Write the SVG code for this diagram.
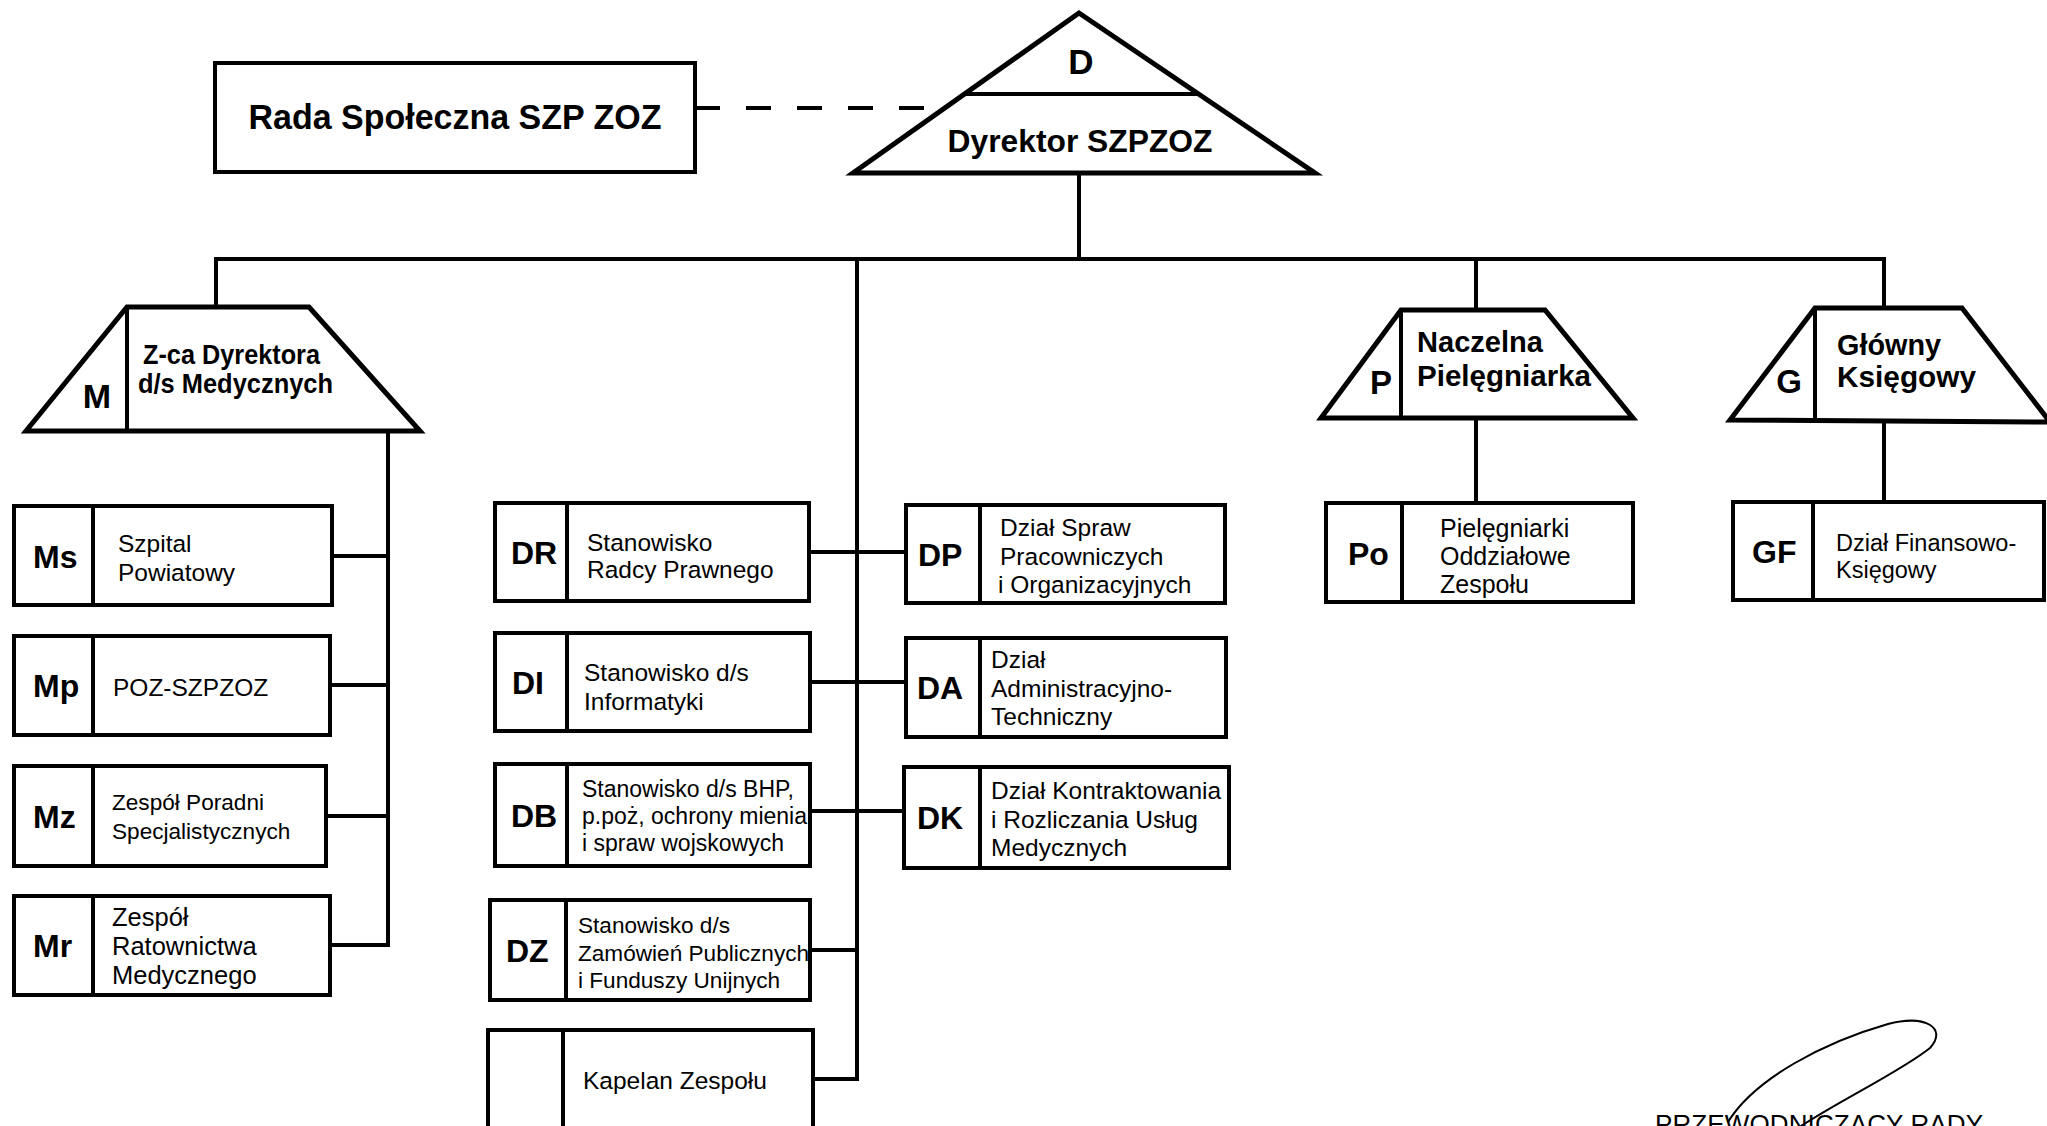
<svg xmlns="http://www.w3.org/2000/svg" width="2047" height="1126" viewBox="0 0 2047 1126">
<style>
.bx{fill:#fff;stroke:#000;stroke-width:4}
.sh{fill:#fff;stroke:#000;stroke-width:5;stroke-linejoin:miter}
.ln{stroke:#000;stroke-width:4;fill:none}
.dv{stroke:#000;stroke-width:4}
text{font-family:"Liberation Sans",Arial,sans-serif;fill:#000}
.cd{font-size:32px;font-weight:bold}
.hd{font-weight:bold}
.t{font-size:24.5px}
.s{font-size:23px}
</style>
<rect width="2047" height="1126" fill="#fff"/>
<g id="connectors">
<line class="ln" x1="695" y1="108" x2="926" y2="108" stroke-width="6" stroke-dasharray="25 26"/>
<line class="ln" x1="1079" y1="173" x2="1079" y2="259"/>
<line class="ln" x1="214" y1="259" x2="1886" y2="259"/>
<line class="ln" x1="216" y1="259" x2="216" y2="307"/>
<line class="ln" x1="857" y1="259" x2="857" y2="1081"/>
<line class="ln" x1="1476" y1="259" x2="1476" y2="310"/>
<line class="ln" x1="1884" y1="259" x2="1884" y2="308"/>
<line class="ln" x1="388" y1="431" x2="388" y2="947"/>
<line class="ln" x1="332" y1="556" x2="388" y2="556"/>
<line class="ln" x1="330" y1="685" x2="388" y2="685"/>
<line class="ln" x1="326" y1="816" x2="388" y2="816"/>
<line class="ln" x1="330" y1="945" x2="390" y2="945"/>
<line class="ln" x1="809" y1="552" x2="906" y2="552"/>
<line class="ln" x1="810" y1="682" x2="906" y2="682"/>
<line class="ln" x1="810" y1="811" x2="904" y2="811"/>
<line class="ln" x1="810" y1="950" x2="857" y2="950"/>
<line class="ln" x1="813" y1="1079" x2="859" y2="1079"/>
<line class="ln" x1="1476" y1="418" x2="1476" y2="503"/>
<line class="ln" x1="1884" y1="420" x2="1884" y2="502"/>
</g>
<g id="rada">
<rect class="bx" x="215" y="63" width="480" height="109" stroke-width="4.5"/>
<text class="hd" x="455" y="129" font-size="35" text-anchor="middle" textLength="413" lengthAdjust="spacingAndGlyphs">Rada Społeczna SZP ZOZ</text>
</g>
<g id="dyrektor">
<polygon class="sh" points="1079,13 1315,173 853,173"/>
<line class="dv" x1="965" y1="94" x2="1198" y2="94" stroke-width="5"/>
<text class="hd" x="1081" y="74" font-size="35" text-anchor="middle">D</text>
<text class="hd" x="1080" y="152" font-size="32" text-anchor="middle" textLength="265" lengthAdjust="spacingAndGlyphs">Dyrektor SZPZOZ</text>
</g>
<g id="zca-medycznych">
<polygon class="sh" points="127,307 309,307 420,431 26,431"/>
<line class="dv" x1="127" y1="307" x2="127" y2="431" stroke-width="5"/>
<text class="hd" x="97" y="408" font-size="34" text-anchor="middle">M</text>
<text class="hd" x="143" y="364" font-size="28" textLength="177" lengthAdjust="spacingAndGlyphs">Z-ca Dyrektora</text>
<text class="hd" x="138" y="393" font-size="28" textLength="195" lengthAdjust="spacingAndGlyphs">d/s Medycznych</text>
</g>
<g id="naczelna-pielegniarka">
<polygon class="sh" points="1401,310 1545,310 1633,418 1321,418"/>
<line class="dv" x1="1401" y1="310" x2="1401" y2="418" stroke-width="5"/>
<text class="hd" x="1381" y="394" font-size="33" text-anchor="middle">P</text>
<text class="hd" x="1417" y="352" font-size="30" textLength="126" lengthAdjust="spacingAndGlyphs">Naczelna</text>
<text class="hd" x="1417" y="386" font-size="30" textLength="174" lengthAdjust="spacingAndGlyphs">Pielęgniarka</text>
</g>
<g id="glowny-ksiegowy">
<polygon class="sh" points="1815,308 1962,308 2050,422 1730,420"/>
<line class="dv" x1="1815" y1="308" x2="1815" y2="420" stroke-width="5"/>
<text class="hd" x="1789" y="393" font-size="33" text-anchor="middle">G</text>
<text class="hd" x="1837" y="355" font-size="30" textLength="104" lengthAdjust="spacingAndGlyphs">Główny</text>
<text class="hd" x="1837" y="387" font-size="30" textLength="139" lengthAdjust="spacingAndGlyphs">Księgowy</text>
</g>
<g id="Ms">
<rect class="bx" x="14" y="506" width="318" height="99"/>
<line class="dv" x1="93" y1="506" x2="93" y2="605"/>
<text class="cd" x="33" y="568">Ms</text>
<text class="t" x="118" y="552">Szpital</text>
<text class="t" x="118" y="581">Powiatowy</text>
</g>
<g id="Mp">
<rect class="bx" x="14" y="636" width="316" height="99"/>
<line class="dv" x1="93" y1="636" x2="93" y2="735"/>
<text class="cd" x="33" y="697">Mp</text>
<text class="t" x="113" y="696">POZ-SZPZOZ</text>
</g>
<g id="Mz">
<rect class="bx" x="14" y="766" width="312" height="100"/>
<line class="dv" x1="93" y1="766" x2="93" y2="866"/>
<text class="cd" x="33" y="828">Mz</text>
<text x="112" y="810" font-size="22.6">Zespół Poradni</text>
<text x="112" y="839" font-size="22.6">Specjalistycznych</text>
</g>
<g id="Mr">
<rect class="bx" x="14" y="896" width="316" height="99"/>
<line class="dv" x1="93" y1="896" x2="93" y2="995"/>
<text class="cd" x="33" y="957">Mr</text>
<text x="112" y="926" font-size="25.5">Zespół</text>
<text x="112" y="955" font-size="25.5">Ratownictwa</text>
<text x="112" y="984" font-size="25.5">Medycznego</text>
</g>
<g id="DR">
<rect class="bx" x="495" y="503" width="314" height="98"/>
<line class="dv" x1="567" y1="503" x2="567" y2="601"/>
<text class="cd" x="511" y="564">DR</text>
<text class="t" x="587" y="551">Stanowisko</text>
<text class="t" x="587" y="578">Radcy Prawnego</text>
</g>
<g id="DI">
<rect class="bx" x="495" y="633" width="315" height="98"/>
<line class="dv" x1="567" y1="633" x2="567" y2="731"/>
<text class="cd" x="512" y="694">DI</text>
<text class="t" x="584" y="681">Stanowisko d/s</text>
<text class="t" x="584" y="710">Informatyki</text>
</g>
<g id="DB">
<rect class="bx" x="495" y="764" width="315" height="102"/>
<line class="dv" x1="567" y1="764" x2="567" y2="866"/>
<text class="cd" x="511" y="827">DB</text>
<text class="s" x="582" y="797">Stanowisko d/s BHP,</text>
<text class="s" x="582" y="824">p.poż, ochrony mienia</text>
<text class="s" x="582" y="851">i spraw wojskowych</text>
</g>
<g id="DZ">
<rect class="bx" x="490" y="900" width="320" height="100"/>
<line class="dv" x1="566" y1="900" x2="566" y2="1000"/>
<text class="cd" x="506" y="962">DZ</text>
<text x="578" y="933" font-size="22.6">Stanowisko d/s</text>
<text x="578" y="961" font-size="22.6">Zamówień Publicznych</text>
<text x="578" y="988" font-size="22.6">i Funduszy Unijnych</text>
</g>
<g id="Kapelan">
<rect class="bx" x="488" y="1030" width="325" height="120"/>
<line class="dv" x1="563" y1="1030" x2="563" y2="1150"/>
<text class="t" x="583" y="1089">Kapelan Zespołu</text>
</g>
<g id="DP">
<rect class="bx" x="906" y="505" width="319" height="98"/>
<line class="dv" x1="980" y1="505" x2="980" y2="603"/>
<text class="cd" x="918" y="566">DP</text>
<text class="t" x="1000" y="536">Dział Spraw</text>
<text class="t" x="1000" y="565">Pracowniczych</text>
<text class="t" x="998" y="593">i Organizacyjnych</text>
</g>
<g id="DA">
<rect class="bx" x="906" y="638" width="320" height="99"/>
<line class="dv" x1="980" y1="638" x2="980" y2="737"/>
<text class="cd" x="917" y="699">DA</text>
<text class="t" x="991" y="668">Dział</text>
<text class="t" x="991" y="697">Administracyjno-</text>
<text class="t" x="991" y="725">Techniczny</text>
</g>
<g id="DK">
<rect class="bx" x="904" y="767" width="325" height="101"/>
<line class="dv" x1="980" y1="767" x2="980" y2="868"/>
<text class="cd" x="917" y="829">DK</text>
<text class="t" x="991" y="799">Dział Kontraktowania</text>
<text class="t" x="991" y="828">i Rozliczania Usług</text>
<text class="t" x="991" y="856">Medycznych</text>
</g>
<g id="Po">
<rect class="bx" x="1326" y="503" width="307" height="99"/>
<line class="dv" x1="1402" y1="503" x2="1402" y2="602"/>
<text class="cd" x="1348" y="565">Po</text>
<text x="1440" y="537" font-size="25">Pielęgniarki</text>
<text x="1440" y="565" font-size="25">Oddziałowe</text>
<text x="1440" y="593" font-size="25">Zespołu</text>
</g>
<g id="GF">
<rect class="bx" x="1733" y="502" width="311" height="98"/>
<line class="dv" x1="1813" y1="502" x2="1813" y2="600"/>
<text class="cd" x="1752" y="563">GF</text>
<text x="1836" y="551" font-size="23.5">Dział Finansowo-</text>
<text x="1836" y="578" font-size="23.5">Księgowy</text>
</g>
<g id="podpis">
<path d="M1728,1122 C1755,1078 1825,1042 1888,1024 C1925,1014 1948,1028 1930,1048 C1900,1072 1840,1100 1798,1128" fill="none" stroke="#000" stroke-width="2"/>
<text x="1655" y="1133" font-family="'Liberation Serif','Times New Roman',serif" font-size="26" textLength="328" lengthAdjust="spacing">PRZEWODNICZĄCY RADY</text>
</g>
</svg>
